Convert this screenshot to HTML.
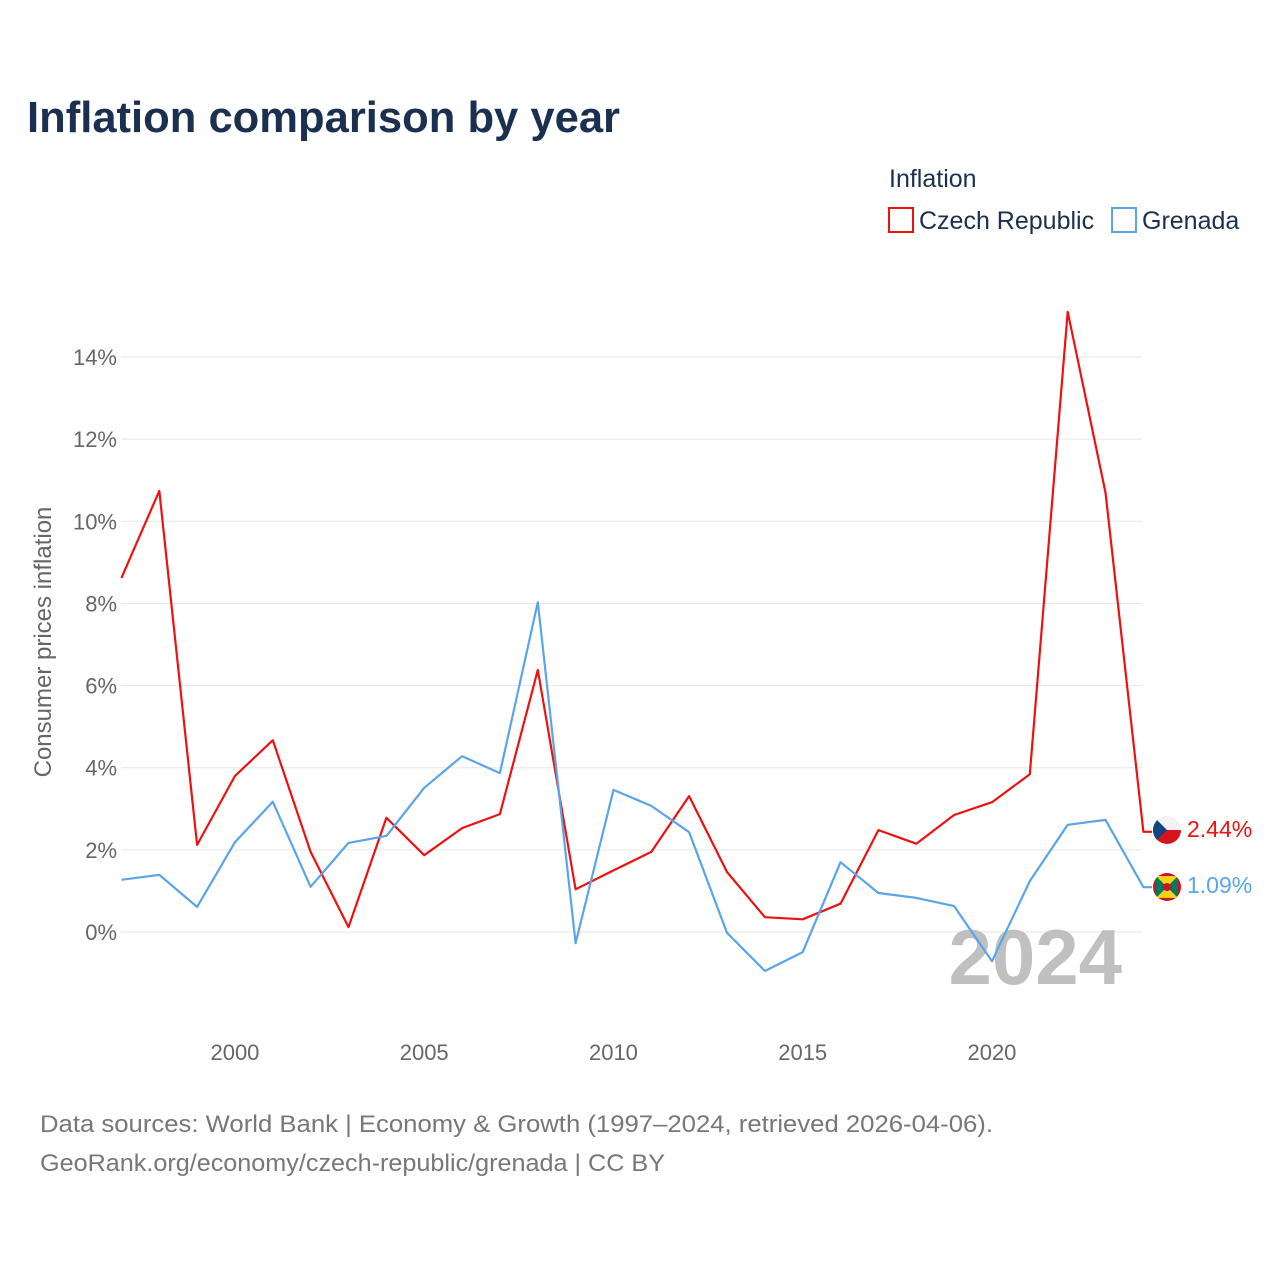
<!DOCTYPE html>
<html><head><meta charset="utf-8">
<style>
body{margin:0;background:#fff;font-family:"Liberation Sans",sans-serif;}
#wrap{position:relative;width:1280px;height:1280px;overflow:hidden;}
</style></head>
<body>
<div id="wrap">
<svg id="chart" width="1280" height="1280">
<defs>
<clipPath id="c1"><circle cx="1167" cy="830" r="14"/></clipPath>
<clipPath id="c2"><circle cx="1167" cy="887" r="14"/></clipPath>
</defs>
<text x="27" y="132" font-size="44" font-weight="bold" fill="#1b3050" textLength="593" lengthAdjust="spacingAndGlyphs">Inflation comparison by year</text>
<text x="889" y="187" font-size="25" fill="#1b3050">Inflation</text>
<g><rect x="889" y="208" width="24" height="24" fill="none" stroke="#ee1111" stroke-width="2"/><text x="919" y="229" font-size="25" fill="#1b3050">Czech Republic</text></g>
<g><rect x="1112" y="208" width="24" height="24" fill="none" stroke="#5aa5ea" stroke-width="2"/><text x="1142" y="229" font-size="25" fill="#1b3050">Grenada</text></g>
<text transform="translate(51,642) rotate(-90)" text-anchor="middle" font-size="24" fill="#666">Consumer prices inflation</text>
<g id="grid"></g><g id="xt"></g>
<text x="1122" y="984" text-anchor="end" font-size="78" font-weight="bold" fill="#c0c0c0">2024</text>
<g id="lines"></g>
<g clip-path="url(#c1)">
<rect x="1153" y="816" width="28" height="14" fill="#f2f2f2"/><rect x="1153" y="830" width="28" height="14" fill="#d7141a"/><polygon points="1153,816 1167,830 1153,844" fill="#11457e"/>
</g>
<g clip-path="url(#c2)">
<rect x="1153" y="873" width="28" height="28" fill="#ce1126"/><rect x="1156" y="876" width="22" height="22" fill="#fcd116"/><polygon points="1156,876 1167,887 1156,898" fill="#007a5e"/><polygon points="1178,876 1167,887 1178,898" fill="#007a5e"/><circle cx="1167" cy="887" r="4" fill="#ce1126"/>
</g>
<text x="40" y="1132" font-size="24" fill="#777" textLength="953" lengthAdjust="spacingAndGlyphs">Data sources: World Bank | Economy &amp; Growth (1997–2024, retrieved 2026-04-06).</text>
<text x="40" y="1171" font-size="24" fill="#777" textLength="625" lengthAdjust="spacingAndGlyphs">GeoRank.org/economy/czech-republic/grenada | CC BY</text>
</svg>
</div>
<script>
const years=[1997,1998,1999,2000,2001,2002,2003,2004,2005,2006,2007,2008,2009,2010,2011,2012,2013,2014,2015,2016,2017,2018,2019,2020,2021,2022,2023,2024];
const czech=[8.62,10.74,2.12,3.80,4.67,1.95,0.12,2.78,1.87,2.53,2.87,6.38,1.04,1.5,1.95,3.31,1.46,0.36,0.31,0.69,2.48,2.15,2.85,3.16,3.84,15.1,10.7,2.44];
const grenada=[1.27,1.39,0.61,2.19,3.17,1.10,2.17,2.34,3.51,4.28,3.87,8.03,-0.27,3.46,3.07,2.43,-0.02,-0.95,-0.49,1.70,0.95,0.83,0.63,-0.71,1.24,2.61,2.73,1.09];
const yTicks=[0,2,4,6,8,10,12,14];
const xTicks=[2000,2005,2010,2015,2020];
const NS="http://www.w3.org/2000/svg";
const X=y=>121.4+(y-1997)*37.85;
const Y=v=>932-v*41.07;
function mk(t,a,p){const e=document.createElementNS(NS,t);for(const k in a)e.setAttribute(k,a[k]);p.appendChild(e);return e;}
const grid=document.getElementById('grid');
yTicks.forEach(v=>{
 const l=mk('line',{x1:121,x2:1142,y1:Y(v),y2:Y(v),stroke:'#e6e6e6','stroke-width':1},grid);
 
 
 const t=mk('text',{x:117,y:Y(v)+8,'text-anchor':'end','font-size':22,fill:'#666'},grid);
 t.textContent=v+'%';
 
 
});
const xt=document.getElementById('xt');
xTicks.forEach(v=>{
 const t=mk('text',{x:X(v),y:1060,'text-anchor':'middle','font-size':22,fill:'#666'},xt);
 t.textContent=v;
 
 
});
const lines=document.getElementById('lines');
function series(vals,col,name,ly){
 let d=vals.map((v,i)=>(i?'L':'M')+X(years[i]).toFixed(1)+','+Y(v).toFixed(1)).join(' ');
 const last=vals[vals.length-1];
 d+=' L1152,'+Y(last).toFixed(1);
 const p=mk('path',{d:d,fill:'none',stroke:col,'stroke-width':2.2,'stroke-linejoin':'round'},lines);
 
 
 const t=mk('text',{x:1187,y:ly+8,'font-size':23,fill:col},lines);
 t.textContent=last.toFixed(2)+'%';
 
 
}
series(czech,'#ee1111','czech',829);
series(grenada,'#5aa5ea','grenada',885);
</script>
</body></html>
